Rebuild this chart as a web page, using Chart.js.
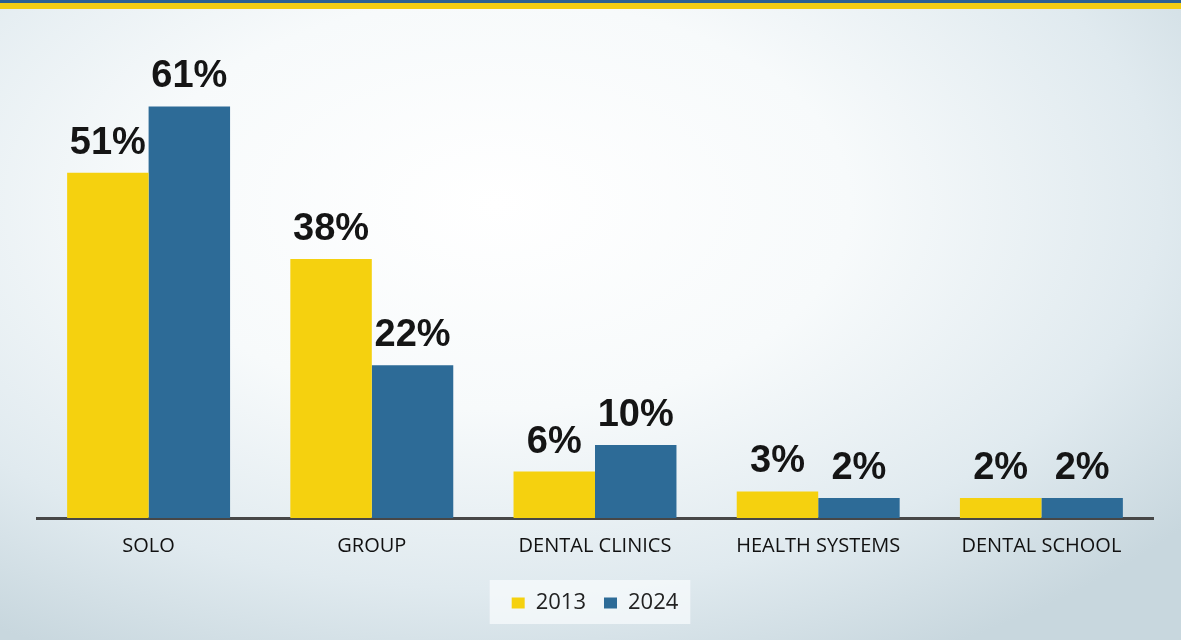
<!DOCTYPE html>
<html>
<head>
<meta charset="utf-8">
<script src="https://cdn.jsdelivr.net/npm/chart.js@4/dist/chart.umd.min.js"></script>
<style>
  html, body { margin: 0; padding: 0; }
  body {
    width: 1181px; height: 640px; overflow: hidden; position: relative;
    background: radial-gradient(ellipse 75% 80% at 42% 32%, #ffffff 0%, #f7fafb 40%, #e0eaef 75%, #c8d7de 100%);
  }
  #topbar { position: absolute; left: 0; top: 0; width: 1181px; height: 9px;
    background: linear-gradient(to bottom, #2b5f93 0px, #2b5f93 3px, #f2cc14 3px, #f2cc14 9px); }
  #wrap { position: absolute; left: 0; top: 0; }
</style>
</head>
<body>
<div id="topbar"></div>
<div id="wrap"><canvas id="chart" width="1181" height="640"></canvas></div>
<script>
// ==== Dữ liệu ====
const categories = ['SOLO', 'GROUP', 'DENTAL CLINICS', 'HEALTH SYSTEMS', 'DENTAL SCHOOL'];
const series2013 = [51, 38, 6, 3, 2];
const series2024 = [61, 22, 10, 2, 2];
const seriesNames = ['2013', '2024'];
const yellow = '#f5d10f';
const blue = '#2d6b97';

// nhãn giá trị trên cột
const valueLabels = {
  id: 'valueLabels',
  afterDatasetsDraw(chart) {
    const ctx = chart.ctx;
    ctx.save();
    ctx.font = 'bold 38px "Liberation Sans", Arial, sans-serif';
    ctx.fillStyle = '#151515';
    ctx.textAlign = 'center';
    ctx.textBaseline = 'alphabetic';
    chart.data.datasets.forEach((ds, i) => {
      chart.getDatasetMeta(i).data.forEach((bar, j) => {
        ctx.fillText(ds.data[j] + '%', bar.x, bar.y - 19);
      });
    });
    ctx.restore();
  }
};

// nền trắng sau chú thích
const legendBg = {
  id: 'legendBg',
  beforeDraw(chart) {
    const boxes = chart.legend && chart.legend.legendHitBoxes;
    if (!boxes || !boxes.length) return;
    const l = Math.min(...boxes.map(b => b.left)) - 22;
    const r = Math.max(...boxes.map(b => b.left + b.width)) + 12;
    const t = Math.min(...boxes.map(b => b.top)) - 12;
    const btm = Math.max(...boxes.map(b => b.top + b.height)) + 10;
    const ctx = chart.ctx;
    ctx.save();
    ctx.fillStyle = 'rgba(250,252,253,0.7)';
    ctx.fillRect(l, t, r - l, btm - t);
    ctx.restore();
  }
};

new Chart(document.getElementById('chart').getContext('2d'), {
  type: 'bar',
  data: {
    labels: categories,
    datasets: [
      { label: seriesNames[0], data: series2013, backgroundColor: yellow, base: -1,
        barPercentage: 1, categoryPercentage: 0.73 },
      { label: seriesNames[1], data: series2024, backgroundColor: blue, base: -1,
        barPercentage: 1, categoryPercentage: 0.73 }
    ]
  },
  options: {
    responsive: false,
    animation: false,
    layout: { padding: { left: 37, right: 28, top: 40, bottom: 16 } },
    plugins: {
      legend: {
        position: 'bottom',
        labels: {
          boxWidth: 13, boxHeight: 11, padding: 18, color: '#222',
          font: { family: '"Open Sans", sans-serif', size: 22 }
        }
      },
      tooltip: { enabled: false }
    },
    scales: {
      x: {
        grid: { display: false, drawTicks: false },
        border: { display: true, color: '#474747', width: 3 },
        ticks: { color: '#111', padding: 16, font: { family: '"Open Sans", sans-serif', size: 20 } }
      },
      y: {
        display: false,
        min: -1,
        max: 71
      }
    }
  },
  plugins: [legendBg, valueLabels]
});
</script>
</body>
</html>
